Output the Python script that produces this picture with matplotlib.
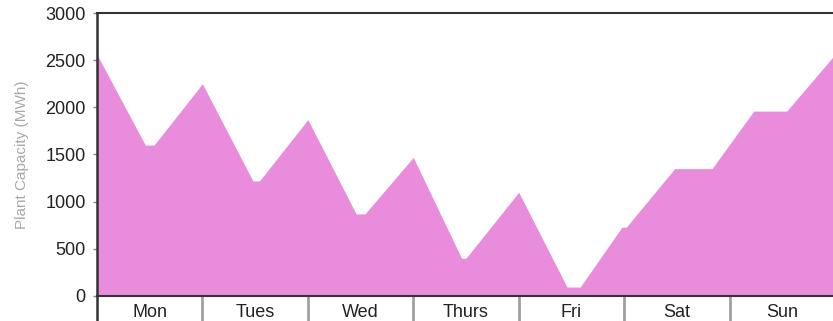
import matplotlib.pyplot as plt
import numpy as np

plt.rcParams['font.family'] = ['Liberation Sans', 'DejaVu Sans']

# hourly plant capacity over one week (hours from Monday 00:00)
hours = [0, 11, 13, 24, 35.5, 37, 48, 59, 61, 72, 83, 84, 96, 107, 110, 119.5, 120.5, 131.5, 140, 149.5, 157, 168]
capacity = [2560, 1600, 1600, 2250, 1220, 1220, 1870, 870, 870, 1470, 400, 400, 1100, 95, 95, 730, 730, 1350, 1350, 1960, 1960, 2560]
days = ['Mon', 'Tues', 'Wed', 'Thurs', 'Fri', 'Sat', 'Sun']
yticks = [0, 500, 1000, 1500, 2000, 2500, 3000]

fig = plt.figure(figsize=(8.33, 3.21), dpi=100)
ax = fig.add_axes([0.1164, 0.0779, 0.8860, 0.8816])

ax.fill_between(hours, capacity, 0, color='#ea8cdc', linewidth=0)
ax.set_xlim(0, 168)
ax.set_ylim(0, 3000)

ax.spines['right'].set_visible(False)
ax.spines['left'].set_visible(False)
for s in ('top', 'bottom'):
    ax.spines[s].set_color('#333333')
    ax.spines[s].set_linewidth(1.5)
# left axis line runs down past the day band
ax.plot([0, 0], [-0.12, 1.0], transform=ax.transAxes, color='#333333',
        lw=1.8, clip_on=False, solid_capstyle='butt')

ax.set_yticks(yticks)
ax.set_yticklabels([str(v) for v in yticks], fontsize=13, color='#222222')
ax.tick_params(axis='y', length=3, width=1, color='#888888', pad=5)

# day separators as major ticks, day names on minor ticks
ax.set_xticks([24 * i for i in range(1, 7)])
ax.set_xticklabels([])
ax.tick_params(axis='x', which='major', direction='out', length=20, width=2, color='#a0a0a0')
ax.set_xticks([12 + 24 * i for i in range(7)], minor=True)
ax.set_xticklabels(days, minor=True, fontsize=13, color='#222222')
ax.tick_params(axis='x', which='minor', length=0, pad=6)

ax.set_ylabel('Plant Capacity (MWh)', fontsize=11, color='#a8a8a8', labelpad=12)

fig.savefig('out.png', dpi=100)
